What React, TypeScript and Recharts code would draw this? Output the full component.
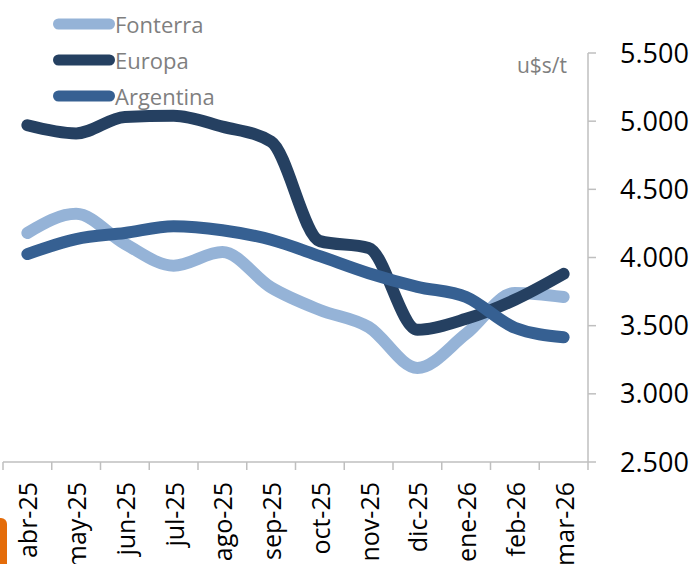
import React from 'react';
import { LineChart, Line, XAxis, YAxis, Legend, Label } from 'recharts';

const months = ['abr-25', 'may-25', 'jun-25', 'jul-25', 'ago-25', 'sep-25', 'oct-25', 'nov-25', 'dic-25', 'ene-26', 'feb-26', 'mar-26'];
const seriesNames = ['Fonterra', 'Europa', 'Argentina'];
const fonterra = [4180, 4320, 4100, 3940, 4040, 3780, 3615, 3490, 3190, 3440, 3740, 3710];
const europa = [4970, 4910, 5030, 5040, 4960, 4850, 4120, 4070, 3470, 3550, 3690, 3880];
const argentina = [4025, 4135, 4180, 4230, 4200, 4130, 4010, 3885, 3785, 3710, 3485, 3415];
const yTicks = [2500, 3000, 3500, 4000, 4500, 5000, 5500];

const data = months.map((m, i) => ({
  month: m,
  Fonterra: fonterra[i],
  Europa: europa[i],
  Argentina: argentina[i],
}));

const FONT = '"Open Sans", "DejaVu Sans", sans-serif';
const AXIS_GREY = '#bfbfbf';

const fmt = (v: number) => String(v).replace(/\B(?=(\d{3})+(?!\d))/g, '.');

function MonthTick(props: any) {
  const { x, y, payload } = props;
  const half = payload?.offset ?? 24;
  const isLast = payload?.value === months[months.length - 1];
  return (
    <g>
      <line x1={x - half} y1={y} x2={x - half} y2={y + 8} stroke={AXIS_GREY} strokeWidth={1.5} />
      {isLast && <line x1={x + half} y1={y} x2={x + half} y2={y + 8} stroke={AXIS_GREY} strokeWidth={1.5} />}
      <text
        transform={`translate(${x},${y + 20}) rotate(-90)`}
        textAnchor="end"
        dominantBaseline="central"
        fill="#000"
        fontSize={25}
        fontFamily={FONT}
      >
        {payload.value}
      </text>
    </g>
  );
}

function LegendBox(props: any) {
  const items = [...(props.payload || [])].sort(
    (a: any, b: any) => seriesNames.indexOf(a.value) - seriesNames.indexOf(b.value)
  );
  return (
    <div style={{ fontFamily: FONT, fontSize: 22, color: '#7f7f7f' }}>
      {items.map((it: any) => (
        <div key={it.value} style={{ display: 'flex', alignItems: 'center', height: 36, lineHeight: '36px' }}>
          <svg width={62} height={14} style={{ display: 'block' }}>
            <line x1={5.5} y1={7} x2={56.5} y2={7} stroke={it.color} strokeWidth={11} strokeLinecap="round" />
          </svg>
          <span>{it.value}</span>
        </div>
      ))}
    </div>
  );
}

export default function App() {
  return (
    <div style={{ position: 'absolute', top: 0, left: 0, width: 696, height: 564, background: '#fff', overflow: 'hidden' }}>
      <LineChart width={696} height={564} data={data} margin={{ top: 53, right: 8, left: 3, bottom: 2 }}>
        <XAxis
          dataKey="month"
          scale="band"
          interval={0}
          height={100}
          tickSize={0}
          tickMargin={0}
          tickLine={false}
          axisLine={{ stroke: AXIS_GREY, strokeWidth: 1.5 }}
          tick={<MonthTick />}
        />
        <YAxis
          orientation="right"
          width={100}
          domain={[2500, 5500]}
          ticks={yTicks}
          interval={0}
          tickFormatter={fmt}
          tickSize={8}
          tickMargin={24}
          axisLine={{ stroke: AXIS_GREY, strokeWidth: 1.5 }}
          tickLine={{ stroke: AXIS_GREY, strokeWidth: 1.5 }}
          tick={{ fill: '#000', fontSize: 27, fontFamily: FONT, textAnchor: 'start' }}
        >
          <Label
            content={(p: any) => (
              <text
                x={p.viewBox.x - 21}
                y={p.viewBox.y + 20}
                textAnchor="end"
                fill="#7f7f7f"
                fontSize={21}
                fontFamily={FONT}
              >
                u$s/t
              </text>
            )}
          />
        </YAxis>
        <Legend
          layout="vertical"
          align="center"
          verticalAlign="middle"
          wrapperStyle={{ top: 6, left: 53, width: 300 }}
          content={<LegendBox />}
        />
        <Line type="monotone" dataKey="Fonterra" stroke="#95b3d7" strokeWidth={12} strokeLinecap="round" strokeLinejoin="round" dot={false} isAnimationActive={false} />
        <Line type="monotone" dataKey="Europa" stroke="#254061" strokeWidth={12} strokeLinecap="round" strokeLinejoin="round" dot={false} isAnimationActive={false} />
        <Line type="monotone" dataKey="Argentina" stroke="#366092" strokeWidth={12} strokeLinecap="round" strokeLinejoin="round" dot={false} isAnimationActive={false} />
      </LineChart>
      <div style={{ position: 'absolute', left: 0, top: 518, width: 7, height: 46, background: '#e46c0a', borderTopRightRadius: 6 }} />
    </div>
  );
}
